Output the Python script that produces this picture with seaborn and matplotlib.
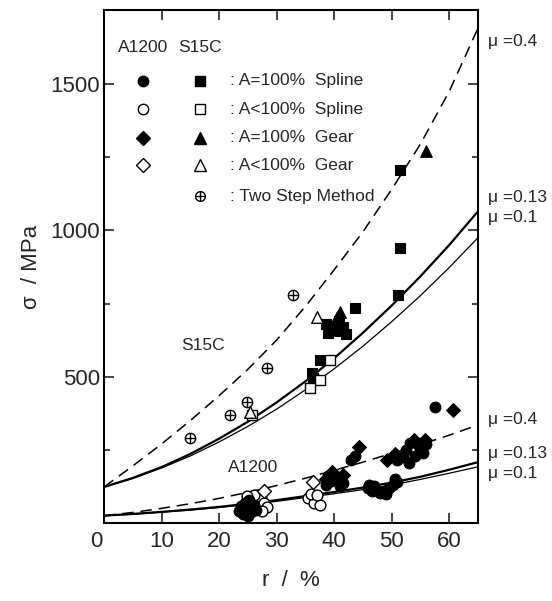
import numpy as np
import pandas as pd
import matplotlib
matplotlib.use("Agg")
import matplotlib.pyplot as plt
import matplotlib.transforms as mtransforms
import seaborn as sns

# ---------------- data ----------------
# Theoretical curves (r in %, sigma in MPa)
curve_r = [0, 5, 10, 15, 20, 25, 30, 35, 40, 45, 50, 55, 60, 65]
s15c_mu04 = [123, 195, 270, 350, 435, 525, 625, 740, 865, 995, 1140, 1295, 1475, 1691]
s15c_mu013 = [123, 154, 191, 236, 288, 346, 412, 484, 563, 650, 743, 843, 950, 1065]
s15c_mu01 = [123, 152, 188, 229, 277, 330, 389, 455, 527, 604, 688, 777, 873, 975]
a1200_mu04 = [25, 36, 50, 66, 84, 105, 128, 153, 180, 208, 238, 268, 300, 335]
a1200_mu013 = [25, 31, 38, 46, 55, 66, 78, 92, 106, 121, 138, 158, 182, 208]
a1200_mu01 = [25, 30, 37, 44, 53, 63, 74, 87, 100, 114, 130, 149, 170, 192]

# S15C experimental points
s15c_spl_full_r = [51.4, 51.4, 51.1, 43.6, 38.5, 39.5, 40.5, 41.5, 42.0, 39.0, 40.8, 37.5, 36.1, 36.3]
s15c_spl_full_s = [1206, 940, 779, 733, 680, 665, 655, 670, 645, 650, 690, 557, 512, 495]
s15c_spl_part_r = [39.3, 37.5, 35.8, 25.8]
s15c_spl_part_s = [557, 489, 461, 370]
s15c_gear_full_r = [56.0, 41.0, 40.5]
s15c_gear_full_s = [1272, 722, 705]
s15c_gear_part_r = [37.0, 25.4]
s15c_gear_part_s = [705, 380]
two_step_r = [15.0, 21.9, 24.8, 28.3, 32.9]
two_step_s = [290, 369, 415, 528, 779]

# A1200 experimental points
a_spl_full_r = [23.5, 24.2, 24.8, 25.5, 26.0, 24.5, 23.8, 25.2, 26.5, 25.0,
                38.5, 39.5, 40.5, 41.5, 39.0, 41.0, 43.0, 43.6,
                45.8, 46.5, 47.3, 48.0, 48.8, 49.5, 50.2, 51.0, 47.0, 50.5, 49.0, 46.0, 51.0,
                52.5, 53.2, 54.0, 54.8, 55.5, 53.0, 56.0, 52.0, 57.5]
a_spl_full_s = [40, 30, 50, 38, 60, 70, 58, 80, 45, 25,
                130, 145, 150, 135, 160, 125, 215, 228,
                118, 108, 112, 104, 110, 120, 130, 140, 128, 150, 100, 130, 215,
                250, 275, 230, 262, 240, 205, 270, 225, 397]
a_spl_part_r = [27.2, 27.8, 28.3, 26.0, 24.8, 27.5, 35.5, 36.5, 37.5, 36.0, 37.0]
a_spl_part_s = [88, 70, 55, 95, 92, 40, 85, 70, 60, 100, 95]
a_gear_full_r = [60.6, 44.4, 39.6, 41.5, 49.1, 50.5, 55.8, 53.8, 38.5]
a_gear_full_s = [386, 261, 175, 165, 215, 237, 285, 282, 150]
a_gear_part_r = [36.4, 27.8]
a_gear_part_s = [141, 108]

# ---------------- plotting ----------------
sns.set_style("ticks")
plt.rcParams["font.family"] = ["Liberation Sans", "DejaVu Sans"]

fig = plt.figure(figsize=(5.52, 6.01), dpi=100)
ax = fig.add_axes([104 / 552, 78 / 601, 374 / 552, 513 / 601])

curves = pd.DataFrame({"r": curve_r})
for col, vals in [("s04", s15c_mu04), ("s013", s15c_mu013), ("s01", s15c_mu01),
                  ("a04", a1200_mu04), ("a013", a1200_mu013), ("a01", a1200_mu01)]:
    curves[col] = vals

for col, lw, ls in [("s04", 1.1, "--"), ("s013", 1.6, "-"), ("s01", 0.9, "-"),
                    ("a04", 1.1, "--"), ("a013", 1.6, "-"), ("a01", 0.9, "-")]:
    sns.lineplot(data=curves, x="r", y=col, ax=ax, color="black", lw=lw,
                 linestyle=ls, sort=False, legend=False)
for line in ax.lines:
    if line.get_linestyle() == "--":
        line.set_dashes((7.5, 4.5))

ms = 60
def pts(r, s, marker, filled, size=ms, z=3):
    d = pd.DataFrame({"r": r, "s": s})
    if filled:
        sns.scatterplot(data=d, x="r", y="s", ax=ax, marker=marker, s=size,
                        color="black", edgecolor="black", linewidth=0.8, zorder=z)
    else:
        sns.scatterplot(data=d, x="r", y="s", ax=ax, marker=marker, s=size,
                        facecolor="white", edgecolor="black", linewidth=1.0, zorder=z)

pts(s15c_spl_full_r, s15c_spl_full_s, "s", True)
pts(s15c_spl_part_r, s15c_spl_part_s, "s", False)
pts(s15c_gear_full_r, s15c_gear_full_s, "^", True, 70)
pts(s15c_gear_part_r, s15c_gear_part_s, "^", False, 70)
pts(two_step_r, two_step_s, "o", False, 55)
d2 = pd.DataFrame({"r": two_step_r, "s": two_step_s})
sns.scatterplot(data=d2, x="r", y="s", ax=ax, marker="+", s=55, color="black",
                linewidth=1.0, zorder=4)
pts(a_spl_part_r, a_spl_part_s, "o", False, z=2.8)
pts(a_gear_part_r, a_gear_part_s, "D", False, 50, z=2.8)
pts(a_spl_full_r, a_spl_full_s, "o", True)
pts(a_gear_full_r, a_gear_full_s, "D", True, 50)

ax.set_xlim(0, 65)
ax.set_ylim(0, 1753)
ax.set_xticks([0, 10, 20, 30, 40, 50, 60])
ax.set_yticks([500, 1000, 1500])
ax.set_yticks([250, 750, 1250], minor=True)
ax.tick_params(which="both", direction="in", top=True, right=True, labelsize=16,
               width=1.2)
ax.tick_params(which="major", length=7)
ax.tick_params(which="minor", length=4)
ax.tick_params(axis="x", pad=6)
ax.tick_params(axis="y", pad=3)
for sp in ax.spines.values():
    sp.set_linewidth(1.5)
    sp.set_color("black")
# the "0" label sits a little to the left of the corner
lab0 = ax.get_xticklabels()[0]
lab0.set_transform(lab0.get_transform() +
                   mtransforms.ScaledTranslation(-8 / 100, 0, fig.dpi_scale_trans))

ax.set_xlabel("r  /  %", fontsize=16, labelpad=13)
ax.set_ylabel("σ  / MPa", fontsize=16, labelpad=6)

# in-plot labels
ax.text(17.2, 608, "S15C", fontsize=12.5, ha="center", va="center")
ax.text(25.9, 188, "A1200", fontsize=12.5, ha="center", va="center")

# legend drawn by hand
tr = ax.transAxes
cx1, cx2, tx = 0.104, 0.258, 0.337
ax.text(cx1, 0.926, "A1200", transform=tr, fontsize=12.5, ha="center", va="center")
ax.text(cx2, 0.926, "S15C", transform=tr, fontsize=12.5, ha="center", va="center")
rows_y = [0.862, 0.807, 0.751, 0.697, 0.637]
labels = [": A=100%  Spline", ": A<100%  Spline", ": A=100%  Gear",
          ": A<100%  Gear", ": Two Step Method"]
left_m = [("o", True), ("o", False), ("D", True), ("D", False), None]
right_m = [("s", True), ("s", False), ("^", True), ("^", False), ("oplus", False)]
for y, lab, lm, rm in zip(rows_y, labels, left_m, right_m):
    if lm is not None:
        ax.plot(cx1, y, marker=lm[0], transform=tr, ms=7.5 if lm[0] != "D" else 7,
                mfc="black" if lm[1] else "white", mec="black", mew=1.0, ls="none")
    if rm[0] == "oplus":
        ax.plot(cx2, y, marker="o", transform=tr, ms=7, mfc="white", mec="black",
                mew=1.0, ls="none")
        ax.plot(cx2, y, marker="+", transform=tr, ms=7, mec="black", mew=1.0,
                ls="none")
    else:
        ax.plot(cx2, y, marker=rm[0], transform=tr, ms=8 if rm[0] == "^" else 7.5,
                mfc="black" if rm[1] else "white", mec="black", mew=1.0, ls="none")
    ax.text(tx, y, lab, transform=tr, fontsize=12.5, ha="left", va="center")

# mu labels on the right
for y, lab in [(0.938, "μ =0.4"), (0.635, "μ =0.13"), (0.595, "μ =0.1"),
               (0.201, "μ =0.4"), (0.136, "μ =0.13"), (0.097, "μ =0.1")]:
    ax.text(1.027, y, lab, transform=tr, fontsize=12.5, ha="left", va="center",
            clip_on=False)

fig.savefig("out.png", dpi=100)
